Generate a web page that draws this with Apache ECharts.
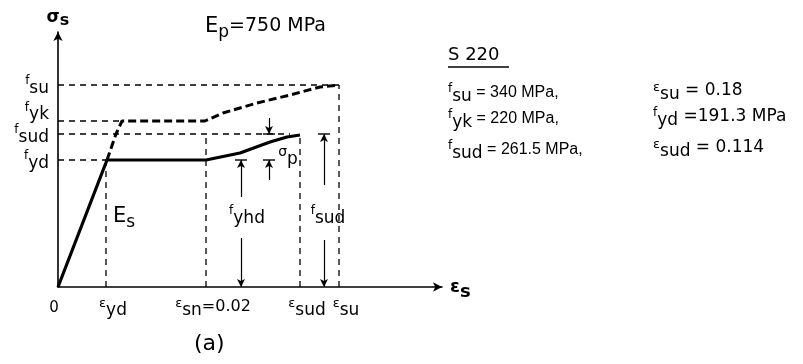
<!DOCTYPE html>
<html>
<head>
<meta charset="utf-8">
<script src="https://cdn.jsdelivr.net/npm/echarts@6/dist/echarts.min.js"></script>
<style>
html, body { margin: 0; padding: 0; background: #fff; }
#chart { width: 803px; height: 364px; }
</style>
</head>
<body>
<div id="chart"></div>
<script>
// schematic diagram units (not to scale): x = strain position, y = stress position
var strainPos = [0, 48, 148, 242, 281];
var strainSub = ['', 'yd', 'sn', 'sud', 'su'];
var strainTail = ['0', '', '=0.02', '', ''];
var strainGuideTop = [0, 127, 153, 152, 202];

var stressPos = [202, 166, 153, 127];
var stressSub = ['su', 'yk', 'sud', 'yd'];
var stressGuideEnd = [281, 64, 232, 49];

// design curve (solid)
var designX = [0, 49, 148, 182, 212, 229, 242];
var designY = [0, 127, 127, 134, 145, 150, 152];
// characteristic curve (dashed)
var charX = [49, 58, 64, 147, 165, 199, 232, 262, 281];
var charY = [127, 153, 166, 166, 174, 184, 192, 200, 202];

// dimension arrows: x, upper piece [from, to], lower piece [from, to]
var dimX = [183, 211, 266];
var dimUpper = [[127, 90], [169, 153], [153, 102]];
var dimUpperArrow = ['start', 'end', 'start'];
var dimLower = [[49, 0], [127, 107], [47, 0]];
var dimLowerArrow = ['end', 'start', 'end'];
var tickPts = [[183, 127], [211, 153], [211, 127], [266, 153]];

// labels inside the diagram
var annotPos = [[66, 70], [189, 72], [270, 72], [230, 133]];
var annotText = ['{E|E}{Es|s}', '{f|f}{sub|yhd}', '{f|f}{sub|sud}', '{sg|σ}{ps|p}'];

// material data block
var specCol1 = [['su', ' = 340 MPa,'], ['yk', ' = 220 MPa,'], ['sud', ' = 261.5 MPa,']];
var specCol2 = [['ε', 'su', ' = 0.18'], ['f', 'yd', ' =191.3 MPa'], ['ε', 'sud', ' = 0.114']];
var specRowY = [93, 119, 150];

var FONT = 'DejaVu Sans';
var rich = {
    f: { fontSize: 12, fontFamily: FONT, color: '#000', padding: [0, 0, 8, 0] },
    e: { fontSize: 13, fontFamily: FONT, color: '#000', padding: [0, 0, 6, 0] },
    sub: { fontSize: 17, fontFamily: FONT, color: '#000', padding: [7, 0, 0, 0] },
    t: { fontSize: 15, fontFamily: FONT, color: '#000' },
    tl: { fontSize: 16, fontFamily: 'Liberation Sans', color: '#000' },
    t2: { fontSize: 17, fontFamily: FONT, color: '#000' },
    tx: { fontSize: 16, fontFamily: FONT, color: '#000' },
    zero: { fontSize: 15, fontFamily: FONT, color: '#000', padding: [6, 0, 0, 0] },
    E: { fontSize: 21, fontFamily: FONT, color: '#000' },
    Es: { fontSize: 17, fontFamily: FONT, color: '#000', padding: [12, 0, 0, 0] },
    sg: { fontSize: 14, fontFamily: FONT, color: '#000', padding: [0, 0, 4, 0] },
    ps: { fontSize: 17, fontFamily: FONT, color: '#000', padding: [12, 0, 0, 0] },
    pad: { width: 14 },
    padR: { width: 8 },
    fUp: { fontSize: 12, fontFamily: FONT, color: '#000', padding: [0, 0, 26, 0] },
    subUp: { fontSize: 17, fontFamily: FONT, color: '#000', padding: [0, 0, 12, 0] },
    big: { fontSize: 19, fontFamily: FONT, color: '#000' }
};

var series = [];
series.push({
    type: 'line', data: designX.map(function (x, i) { return [x, designY[i]]; }),
    symbol: 'none', lineStyle: { color: '#000', width: 3.2 }, z: 5
});
series.push({
    type: 'line', data: charX.map(function (x, i) { return [x, charY[i]]; }),
    symbol: 'none', lineStyle: { color: '#000', width: 3, type: [8, 4] }, z: 5
});
var guideStyle = { color: '#000', width: 1.3, type: [6, 5] };
stressPos.forEach(function (y, i) {
    series.push({ type: 'line', data: [[0, y], [stressGuideEnd[i], y]], symbol: 'none', lineStyle: guideStyle });
});
strainPos.forEach(function (x, i) {
    if (strainGuideTop[i] > 0) {
        series.push({ type: 'line', data: [[x, 0], [x, strainGuideTop[i]]], symbol: 'none', lineStyle: guideStyle });
    }
});

var dimLines = [];
dimX.forEach(function (x, i) {
    [[dimUpper[i], dimUpperArrow[i]], [dimLower[i], dimLowerArrow[i]]].forEach(function (p) {
        dimLines.push([
            { coord: [x, p[0][0]], symbol: p[1] === 'start' ? 'arrow' : 'none' },
            { coord: [x, p[0][1]], symbol: p[1] === 'end' ? 'arrow' : 'none' }
        ]);
    });
});
series.push({
    type: 'scatter', data: tickPts, symbol: 'rect', symbolSize: [12, 1.4],
    itemStyle: { color: '#000', opacity: 1 }, silent: true,
    markLine: {
        silent: true, symbolSize: [6, 8], label: { show: false },
        lineStyle: { color: '#000', width: 1.2, type: 'solid' },
        data: dimLines
    }
});
series.push({
    type: 'scatter', symbolSize: 0, silent: true,
    itemStyle: { color: '#000', opacity: 1 },
    data: annotPos,
    label: {
        show: true, position: 'inside', rich: rich, color: '#000', textBorderWidth: 0,
        formatter: function (p) { return annotText[p.dataIndex]; }
    }
});

var graphics = [
    { type: 'text', left: 205, top: 16, style: { text: '{E|E}{Es|p}{big|=750 MPa}', rich: rich } },
    { type: 'text', left: 448, top: 46, style: { text: 'S 220', font: '18px "DejaVu Sans"', fill: '#000' } },
    { type: 'line', shape: { x1: 448, y1: 67, x2: 509, y2: 67 }, style: { stroke: '#000', lineWidth: 1.5 } },
    { type: 'text', left: 194, top: 333, style: { text: '(a)', font: '22px "DejaVu Sans"', fill: '#000' } }
];
specCol1.forEach(function (r, i) {
    graphics.push({ type: 'text', x: 448, y: specRowY[i], style: { text: '{f|f}{sub|' + r[0] + '}{tl|' + r[1] + '}', rich: rich, verticalAlign: 'middle' } });
});
specCol2.forEach(function (r, i) {
    var pre = r[0] === 'ε' ? '{e|ε}' : '{f|f}';
    graphics.push({ type: 'text', x: 653, y: specRowY[i] - 2, style: { text: pre + '{sub|' + r[1] + '}{t2|' + r[2] + '}', rich: rich, verticalAlign: 'middle' } });
});

var chart = echarts.init(document.getElementById('chart'));
chart.setOption({
    animation: false,
    backgroundColor: '#fff',
    grid: { left: 58, right: 361, top: 32, bottom: 77, containLabel: false, outerBoundsMode: 'none' },
    xAxis: {
        type: 'value', min: 0, max: 384,
        name: '{E|ε}{Es|s}', nameLocation: 'end', nameGap: 8,
        nameTextStyle: { rich: { E: { fontSize: 18, fontWeight: 'bold', fontFamily: FONT, color: '#000' }, Es: { fontSize: 18, fontWeight: 'bold', fontFamily: FONT, color: '#000', padding: [10, 0, 0, 0] } } },
        axisLine: { lineStyle: { color: '#000', width: 1.6 }, symbol: ['none', 'arrow'], symbolSize: [7, 9] },
        axisTick: { show: false }, splitLine: { show: false },
        axisLabel: {
            customValues: strainPos, margin: 8, rich: rich,
            formatter: function (v) {
                var i = strainPos.indexOf(v);
                if (i === 0) return '{zero|0}{padR|}';
                return '{pad|}{e|ε}{sub|' + strainSub[i] + '}' + (strainTail[i] ? '{tx|' + strainTail[i] + '}' : '');
            }
        }
    },
    yAxis: {
        type: 'value', min: 0, max: 255,
        name: '{sg|σ}{s|s}', nameLocation: 'end', nameGap: 3,
        nameTextStyle: { rich: { sg: { fontSize: 17, fontWeight: 'bold', fontFamily: FONT, color: '#000' }, s: { fontSize: 16, fontWeight: 'bold', fontFamily: FONT, color: '#000', padding: [6, 0, 0, 0] } } },
        axisLine: { show: true, lineStyle: { color: '#000', width: 1.6 }, symbol: ['none', 'arrow'], symbolSize: [7, 9] },
        axisTick: { show: false }, splitLine: { show: false },
        axisLabel: {
            customValues: stressPos, margin: 9, rich: rich,
            formatter: function (v) {
                var i = stressPos.indexOf(v);
                if (stressSub[i] === 'yk') return '{fUp|f}{subUp|yk}';
                return '{f|f}{sub|' + stressSub[i] + '}';
            }
        }
    },
    graphic: graphics,
    series: series
});
</script>
</body>
</html>
